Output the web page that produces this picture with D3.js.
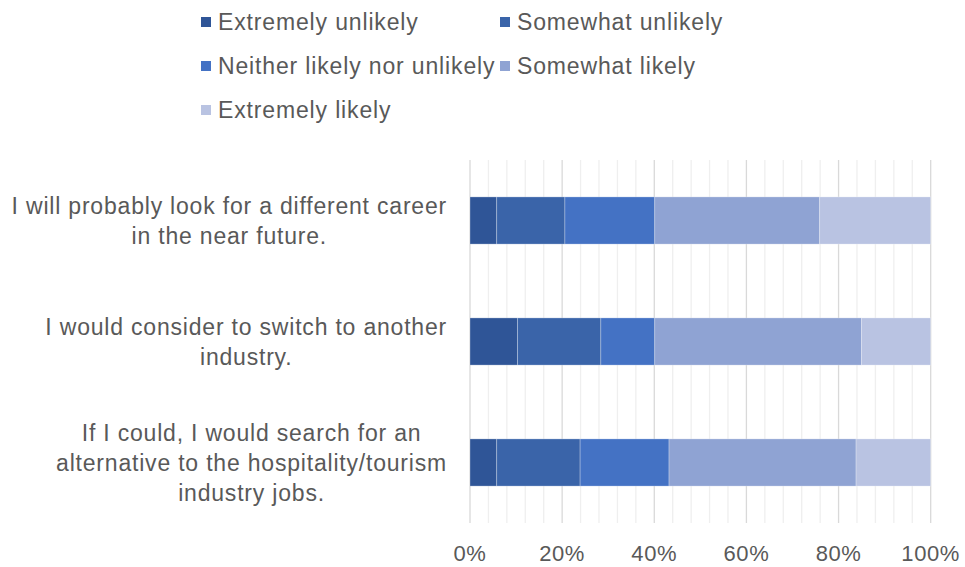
<!DOCTYPE html>
<html>
<head>
<meta charset="utf-8">
<script src="https://cdn.jsdelivr.net/npm/d3@7"></script>
<style>
  html, body { margin: 0; padding: 0; background: #fff; }
  svg { display: block; font-family: "Liberation Sans", Arial, sans-serif; }
</style>
</head>
<body>
<svg id="chart" width="965" height="567"></svg>
<script>
// Survey statements (top to bottom)
const categories = [
  ["I will probably look for a different career", "in the near future."],
  ["I would consider to switch to another", "industry."],
  ["If I could, I would search for an", "alternative to the hospitality/tourism", "industry jobs."]
];
// Response levels
const seriesNames = ["Extremely unlikely", "Somewhat unlikely", "Neither likely nor unlikely", "Somewhat likely", "Extremely likely"];
// Share of respondents (%) per statement, one array per response level
const extremelyUnlikely = [5.8, 10.3, 5.8];
const somewhatUnlikely  = [14.8, 18.1, 18.1];
const neitherLikely     = [19.5, 11.7, 19.3];
const somewhatLikely    = [35.8, 44.9, 40.6];
const extremelyLikely   = [24.1, 15.0, 16.2];
const seriesValues = [extremelyUnlikely, somewhatUnlikely, neitherLikely, somewhatLikely, extremelyLikely];
const tickValues = [0, 20, 40, 60, 80, 100];
const tickLabels = ["0%", "20%", "40%", "60%", "80%", "100%"];
const colors = ["#2f5597", "#3a64a9", "#4472c4", "#8fa3d3", "#b9c3e2"];

const svg = d3.select("#chart");
const textColor = "#595959";

const plot = { left: 470, right: 930.7, top: 160, bottom: 523 };
const x = d3.scaleLinear().domain([0, 100]).range([plot.left, plot.right]);
const y = d3.scaleBand().domain(d3.range(categories.length))
  .range([plot.top, plot.bottom]).paddingInner(0.61).paddingOuter(0.305);

// Gridlines: minor every 4%, major every 20%
const minor = d3.range(0, 101, 4).filter(v => v % 20 !== 0);
svg.append("g").selectAll("line").data(minor).join("line")
  .attr("x1", d => x(d)).attr("x2", d => x(d))
  .attr("y1", plot.top).attr("y2", plot.bottom)
  .attr("stroke", "#efefef").attr("stroke-width", 1.3);
svg.append("g").selectAll("line").data(tickValues).join("line")
  .attr("x1", d => x(d)).attr("x2", d => x(d))
  .attr("y1", plot.top).attr("y2", plot.bottom)
  .attr("stroke", "#d9d9d9").attr("stroke-width", 1.3);

// Stacked bars
const stacked = categories.map((c, i) => {
  let acc = 0;
  return seriesValues.map((vals, s) => {
    const seg = { cat: i, s, x0: acc, x1: acc + vals[i] };
    acc += vals[i];
    return seg;
  });
}).flat();

svg.append("g").selectAll("rect").data(stacked).join("rect")
  .attr("x", d => x(d.x0))
  .attr("y", d => y(d.cat))
  .attr("width", d => x(d.x1) - x(d.x0))
  .attr("height", y.bandwidth())
  .attr("fill", d => colors[d.s])
  .attr("stroke", "rgba(255,255,255,0.35)")
  .attr("stroke-width", 0.8);

// Category labels: block right-aligned to the axis, lines centred within it
const labelRight = 447;
const lineH = 30;
categories.forEach((lines, i) => {
  const g = svg.append("g");
  const texts = g.selectAll("text").data(lines).join("text")
    .text(d => d)
    .attr("font-size", 23)
    .attr("letter-spacing", 0.8)
    .attr("fill", textColor)
    .attr("text-anchor", "middle");
  let maxW = 0;
  texts.each(function () { maxW = Math.max(maxW, this.getComputedTextLength()); });
  const cx = labelRight - maxW / 2;
  const cy = y(i) + y.bandwidth() / 2;
  const firstBase = cy - (lines.length - 1) * lineH / 2 + 8;
  texts.attr("x", cx).attr("y", (d, k) => firstBase + k * lineH);
});

// X axis tick labels
svg.append("g").selectAll("text").data(tickValues).join("text")
  .attr("x", d => x(d))
  .attr("y", 561)
  .attr("text-anchor", "middle")
  .attr("font-size", 22)
  .attr("letter-spacing", 0.6)
  .attr("fill", textColor)
  .text((d, i) => tickLabels[i]);

// Legend (two columns, three rows)
const legendPos = [[201, 22], [500, 22], [201, 66], [500, 66], [201, 110]];
const lg = svg.append("g").selectAll("g").data(seriesNames).join("g")
  .attr("transform", (d, i) => `translate(${legendPos[i][0]},${legendPos[i][1]})`);
lg.append("rect").attr("x", 0).attr("y", -5).attr("width", 10).attr("height", 10)
  .attr("fill", (d, i) => colors[i]);
lg.append("text").attr("x", 17).attr("y", 8)
  .attr("font-size", 23).attr("letter-spacing", 0.85)
  .attr("fill", textColor).text(d => d);
</script>
</body>
</html>
